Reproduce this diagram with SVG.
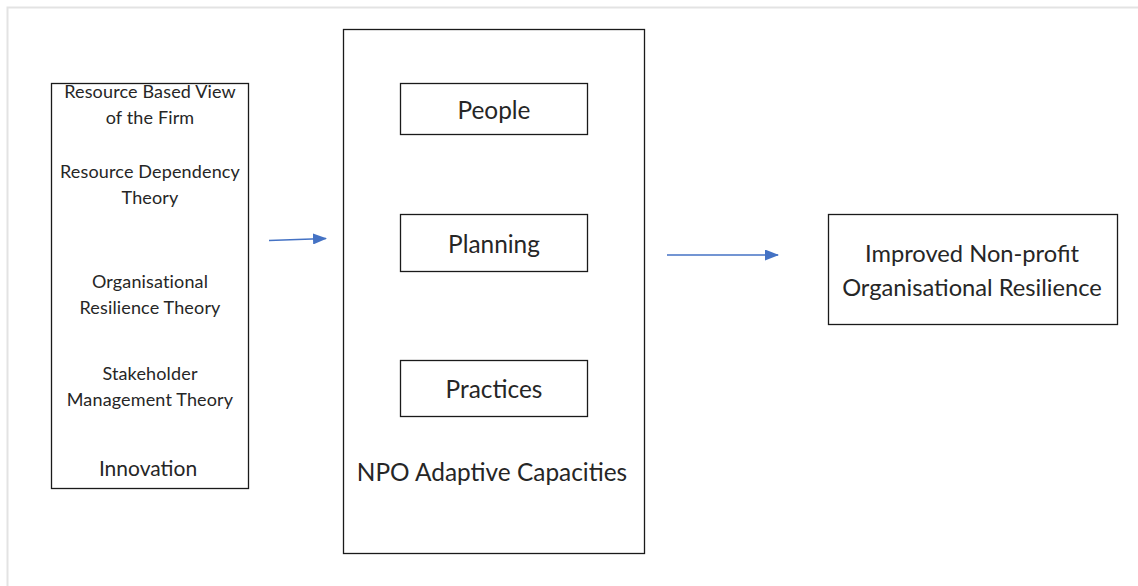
<svg xmlns="http://www.w3.org/2000/svg" width="1138" height="586" viewBox="0 0 1138 586">
  <defs>
    <marker id="arrow" markerWidth="14" markerHeight="11" refX="13" refY="5.5" orient="auto" markerUnits="userSpaceOnUse">
      <path d="M0,0 L14,5.5 L0,11 Z" fill="#4472c4"/>
    </marker>
    <style>
      .box { fill: #ffffff; stroke: #1a1a1a; stroke-width: 1.3; }
      .t { font-family: Lato, "Open Sans", "Liberation Sans", sans-serif; fill: #262626; text-anchor: middle; }
      .s-theory { font-size: 18px; letter-spacing: 0.15px; }
      .s-innov { font-size: 21px; }
      .s-cap { font-size: 24.4px; }
      .s-out { font-size: 23.7px; }
      .conn { stroke: #4472c4; stroke-width: 1.6; fill: none; marker-end: url(#arrow); }
    </style>
  </defs>

  <rect width="1138" height="586" fill="#ffffff"/>
  <!-- page frame -->
  <path d="M7.5,586 L7.5,7.5 L1138,7.5" fill="none" stroke="#e3e3e3" stroke-width="2"/>

  <g id="theories">
    <rect class="box" x="51.5" y="83.5" width="197" height="405"/>
    <text class="t s-theory" x="150" y="98">Resource Based View</text>
    <text class="t s-theory" x="150" y="124">of the Firm</text>
    <text class="t s-theory" x="150" y="178">Resource Dependency</text>
    <text class="t s-theory" x="150" y="204">Theory</text>
    <text class="t s-theory" x="150" y="288">Organisational</text>
    <text class="t s-theory" x="150" y="314">Resilience Theory</text>
    <text class="t s-theory" x="150" y="380">Stakeholder</text>
    <text class="t s-theory" x="150" y="406">Management Theory</text>
    <text class="t s-innov" x="148" y="476">Innovation</text>
  </g>

  <g id="capacities">
    <rect class="box" x="343.5" y="29.5" width="301" height="524"/>
    <text class="t s-cap" x="492" y="481">NPO Adaptive Capacities</text>
  </g>

  <g id="people">
    <rect class="box" x="400.5" y="83.5" width="187" height="51"/>
    <text class="t s-cap" x="494" y="119">People</text>
  </g>

  <g id="planning">
    <rect class="box" x="400.5" y="214.5" width="187" height="57"/>
    <text class="t s-cap" x="494" y="253">Planning</text>
  </g>

  <g id="practices">
    <rect class="box" x="400.5" y="360.5" width="187" height="56"/>
    <text class="t s-cap" x="494" y="398">Practices</text>
  </g>

  <g id="resilience">
    <rect class="box" x="828.5" y="214.5" width="289" height="110"/>
    <text class="t s-out" x="972" y="262">Improved Non-profit</text>
    <text class="t s-out" x="972" y="296">Organisational Resilience</text>
  </g>

  <g id="connectors">
    <line class="conn" x1="269" y1="240.5" x2="326" y2="238.5"/>
    <line class="conn" x1="667" y1="255" x2="778" y2="255"/>
  </g>
</svg>
